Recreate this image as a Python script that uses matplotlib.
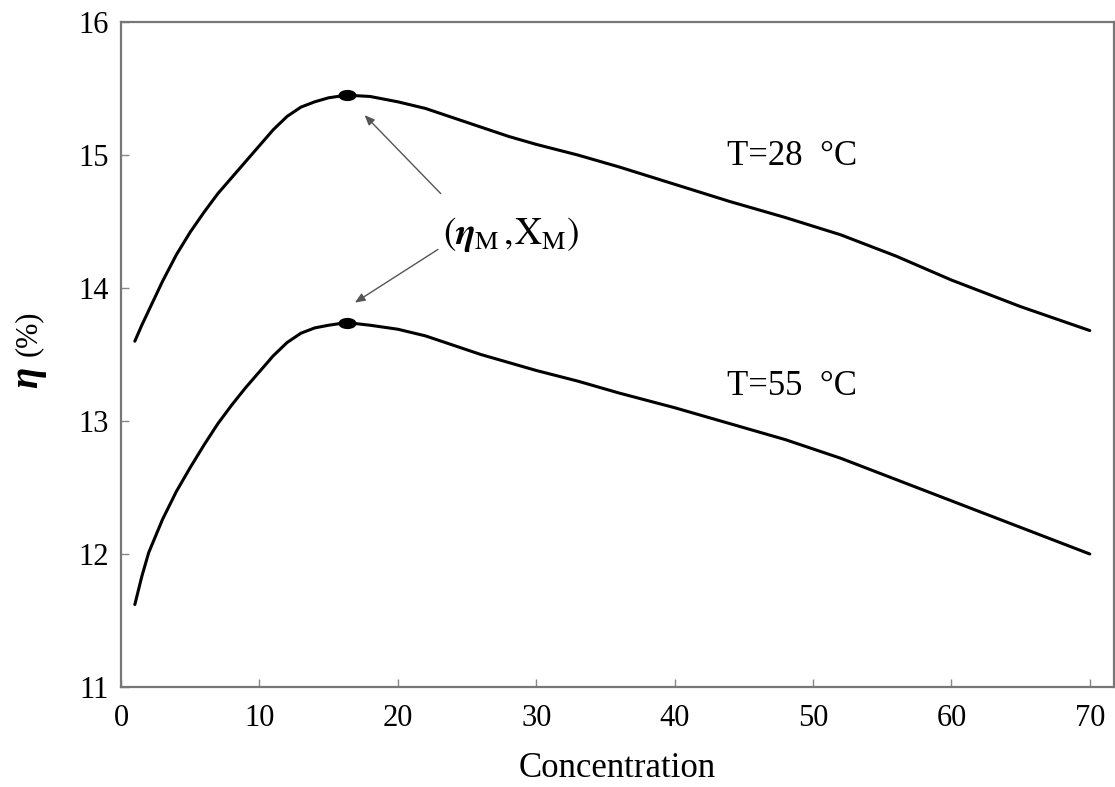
import matplotlib
matplotlib.use("Agg")
import matplotlib.pyplot as plt
from matplotlib.path import Path
from matplotlib.transforms import Affine2D
from matplotlib.markers import MarkerStyle
from matplotlib.mathtext import MathTextParser

plt.rcParams['font.family'] = ['Liberation Serif', 'DejaVu Serif']
plt.rcParams['mathtext.fontset'] = 'stix'

# ---- data ----
conc_28 = [1, 1.5, 2, 3, 4, 5, 6, 7, 8, 9, 10, 11, 12, 13, 14, 15, 16.3, 18, 20,
           22, 24, 26, 28, 30, 33, 36, 40, 44, 48, 52, 56, 60, 65, 70]
eta_28 = [13.60, 13.72, 13.83, 14.05, 14.25, 14.42, 14.57, 14.71, 14.83, 14.95,
          15.07, 15.19, 15.29, 15.36, 15.40, 15.43, 15.45, 15.44, 15.40, 15.35,
          15.28, 15.21, 15.14, 15.08, 15.00, 14.91, 14.78, 14.65, 14.53, 14.40,
          14.24, 14.06, 13.86, 13.68]
conc_55 = [1, 1.5, 2, 3, 4, 5, 6, 7, 8, 9, 10, 11, 12, 13, 14, 15, 16.3, 18, 20,
           22, 24, 26, 28, 30, 33, 36, 40, 44, 48, 52, 56, 60, 65, 70]
eta_55 = [11.62, 11.83, 12.01, 12.26, 12.47, 12.65, 12.82, 12.98, 13.12, 13.25,
          13.37, 13.49, 13.59, 13.66, 13.70, 13.72, 13.74, 13.72, 13.69, 13.64,
          13.57, 13.50, 13.44, 13.38, 13.30, 13.21, 13.10, 12.98, 12.86, 12.72,
          12.56, 12.40, 12.20, 12.00]
peak_x = [16.3, 16.3]
peak_y = [15.45, 13.74]
xticks = [0, 10, 20, 30, 40, 50, 60, 70]
yticks = [11, 12, 13, 14, 15, 16]
label_28 = "T=28  °C"
label_55 = "T=55  °C"
annot_bold = r'$(\boldsymbol{\eta}_{\mathrm{M}}\,,\!\mathrm{X}_{\mathrm{M}})$'
annot_plain = r'$(\eta_{\mathrm{M}}\,,\!\mathrm{X}_{\mathrm{M}})$'

try:
    MathTextParser('path').parse(annot_bold)
    annot_text = annot_bold
except Exception:
    annot_text = annot_plain

fig = plt.figure(figsize=(11.15, 7.87), dpi=100)
ax = fig.add_axes([121/1115, 1-687/787, (1114-121)/1115, (687-22)/787])

ax.plot(conc_28, eta_28, color='black', lw=2.2, solid_capstyle='round')
ax.plot(conc_55, eta_55, color='black', lw=2.2, solid_capstyle='round')

ell = Path.unit_circle().transformed(Affine2D().scale(1.7, 1.0))
ax.plot(peak_x, peak_y, linestyle='none', marker=MarkerStyle(ell),
        markersize=12, color='black')

ax.set_xlim(0, 71.75)
ax.set_ylim(11, 16)
ax.set_xticks(xticks)
ax.set_yticks(yticks)
ax.tick_params(direction='in', length=6, width=1, color='#888888',
               labelsize=22)
ax.tick_params(axis='x', pad=12)
ax.tick_params(axis='y', pad=9)
for s in ax.spines.values():
    s.set_color('#777777')
    s.set_linewidth(1.6)

ax.set_xlabel('Concentration', fontsize=25, labelpad=14)

fig.text(28/1115, 1-377/787, 'η', rotation=90, fontsize=28, fontweight='bold',
         style='italic', ha='center', va='center')
fig.text(28/1115, 1-333/787, '(%)', rotation=90, fontsize=22,
         ha='center', va='center')

ax.text(48.5, 14.985, label_28, fontsize=25, ha='center', va='center')
ax.text(48.5, 13.26, label_55, fontsize=25, ha='center', va='center')

ax.text(28.2, 14.40, annot_text, fontsize=27, ha='center', va='center')
arrow_kw = dict(arrowstyle='-|>,head_length=0.6,head_width=0.25',
                color='#555555', lw=1.0, shrinkA=0, shrinkB=0)
ax.annotate('', xy=(17.6, 15.30), xytext=(23.1, 14.71), arrowprops=arrow_kw)
ax.annotate('', xy=(16.9, 13.89), xytext=(22.9, 14.29), arrowprops=arrow_kw)

fig.savefig('out.png', dpi=100)
